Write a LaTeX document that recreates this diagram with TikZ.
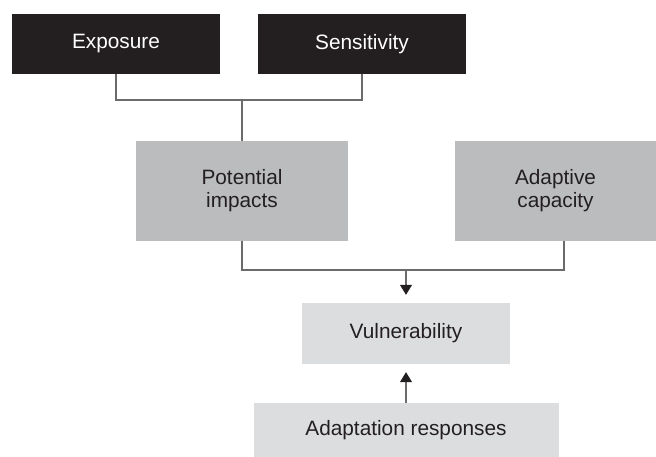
\documentclass[tikz,border=0pt]{standalone}
\usepackage{fontspec}
\setmainfont{Liberation Sans}
\usetikzlibrary{arrows.meta}
\definecolor{boxblack}{HTML}{231F20}
\definecolor{boxgray}{HTML}{BBBCBE}
\definecolor{boxlight}{HTML}{DCDDDF}
\definecolor{linegray}{HTML}{6B6B6B}
\tikzset{
  base/.style={rectangle, inner sep=0pt, align=center, font=\fontsize{20.8}{23}\selectfont},
  darkbox/.style={base, fill=boxblack, text=white},
  graybox/.style={base, fill=boxgray, text=boxblack},
  lightbox/.style={base, fill=boxlight, text=boxblack},
  conn/.style={draw=linegray, line width=1.1pt},
  arr/.style={conn, -{Triangle[width=12pt,length=10pt,color=boxblack]}, shorten >=8pt}
}
\begin{document}
\begin{tikzpicture}[x=1pt,y=-1pt]
\useasboundingbox (0,0) rectangle (656,457);
\node[darkbox, minimum width=208pt, minimum height=60pt] (exp) at (116,44) {Exposure};
\node[darkbox, minimum width=208pt, minimum height=60pt] (sen) at (362,44) {Sensitivity};
\node[graybox, minimum width=212pt, minimum height=100pt] (pot) at (242,191) {Potential\\impacts};
\node[graybox, minimum width=201pt, minimum height=100pt] (ada) at (555.5,191) {Adaptive\\capacity};
\node[lightbox, minimum width=208pt, minimum height=61pt] (vul) at (406,333.5) {Vulnerability};
\node[lightbox, minimum width=305pt, minimum height=54pt] (res) at (406,430) {Adaptation responses};
\coordinate (j1) at (242,100);
\coordinate (j2) at (406,270);
\draw[conn] (exp.south) |- (j1) -| (sen.south);
\draw[conn] (j1) -- (pot.north);
\draw[conn] (pot.south) |- (j2) -| ([xshift=8.5pt]ada.south);
\draw[arr] (j2) -- (vul.north);
\draw[arr] (res.north) -- (vul.south);
\end{tikzpicture}
\end{document}
